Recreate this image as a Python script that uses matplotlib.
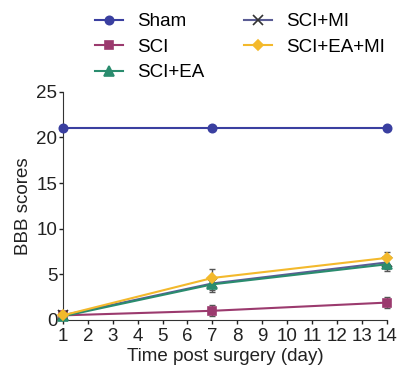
import numpy as np
import matplotlib
matplotlib.use('Agg')
import matplotlib.pyplot as plt

plt.rcParams['font.family'] = ['Liberation Sans', 'DejaVu Sans']

days = [1, 7, 14]
groups = ['Sham', 'SCI', 'SCI+EA', 'SCI+MI', 'SCI+EA+MI']
sham = [21.0, 21.0, 21.0]
sci = [0.5, 1.0, 1.9]
sci_ea = [0.4, 3.9, 6.1]
sci_mi = [0.5, 4.0, 6.3]
sci_ea_mi = [0.5, 4.6, 6.8]
sham_err = [0, 0, 0]
sci_err = [0, 0.6, 0.6]
sci_ea_err = [0, 0.8, 0.7]
sci_mi_err = [0, 0.7, 0.7]
sci_ea_mi_err = [0, 1.0, 0.7]

colors = ['#3a3fa0', '#9b3a6e', '#2a8c6e', '#5a5c94', '#f3b92c']
markers = ['o', 's', '^', 'x', 'D']
msizes = [6, 6, 7, 7, 5]

values = [sham, sci, sci_ea, sci_mi, sci_ea_mi]
errs = [sham_err, sci_err, sci_ea_err, sci_mi_err, sci_ea_mi_err]

fig = plt.figure(figsize=(3.98, 3.72), dpi=100)
ax = fig.add_axes([0.158, 0.140, 0.814, 0.613])

draw_order = [0, 1, 3, 2, 4]
handles = {}
for i in draw_order:
    ax.errorbar(days, values[i], yerr=errs[i], fmt='none', ecolor='#555555',
                elinewidth=1, capsize=2.5, capthick=1, clip_on=False, zorder=2)
    mec = '#333333' if markers[i] == 'x' else colors[i]
    h, = ax.plot(days, values[i], color=colors[i], marker=markers[i],
                 markersize=msizes[i], markeredgecolor=mec, markeredgewidth=1.2,
                 lw=1.5, clip_on=False, zorder=3, label=groups[i])
    handles[i] = h

ax.set_xlim(1, 14)
ax.set_ylim(0, 25)
ax.set_xticks(range(1, 15))
ax.set_yticks(range(0, 26, 5))
ax.tick_params(labelsize=13.5, length=3, width=1, colors='#222222')
ax.tick_params(axis='x', pad=3)
ax.tick_params(axis='y', pad=1)
ax.spines['top'].set_visible(False)
ax.spines['right'].set_visible(False)
ax.spines['left'].set_color('#333333')
ax.spines['bottom'].set_color('#333333')
ax.set_xlabel('Time post surgery (day)', fontsize=13.5, labelpad=2, color='#222222')
ax.set_ylabel('BBB scores', fontsize=13.5, labelpad=3, color='#222222')

fig.legend([handles[i] for i in range(5)], groups, ncol=2, frameon=False,
           loc='upper left', bbox_to_anchor=(0.205, 1.0), fontsize=13.5,
           handlelength=1.5, columnspacing=2.1, labelspacing=0.45,
           handletextpad=0.75, borderaxespad=0.3)

fig.savefig('out.png', dpi=100)
